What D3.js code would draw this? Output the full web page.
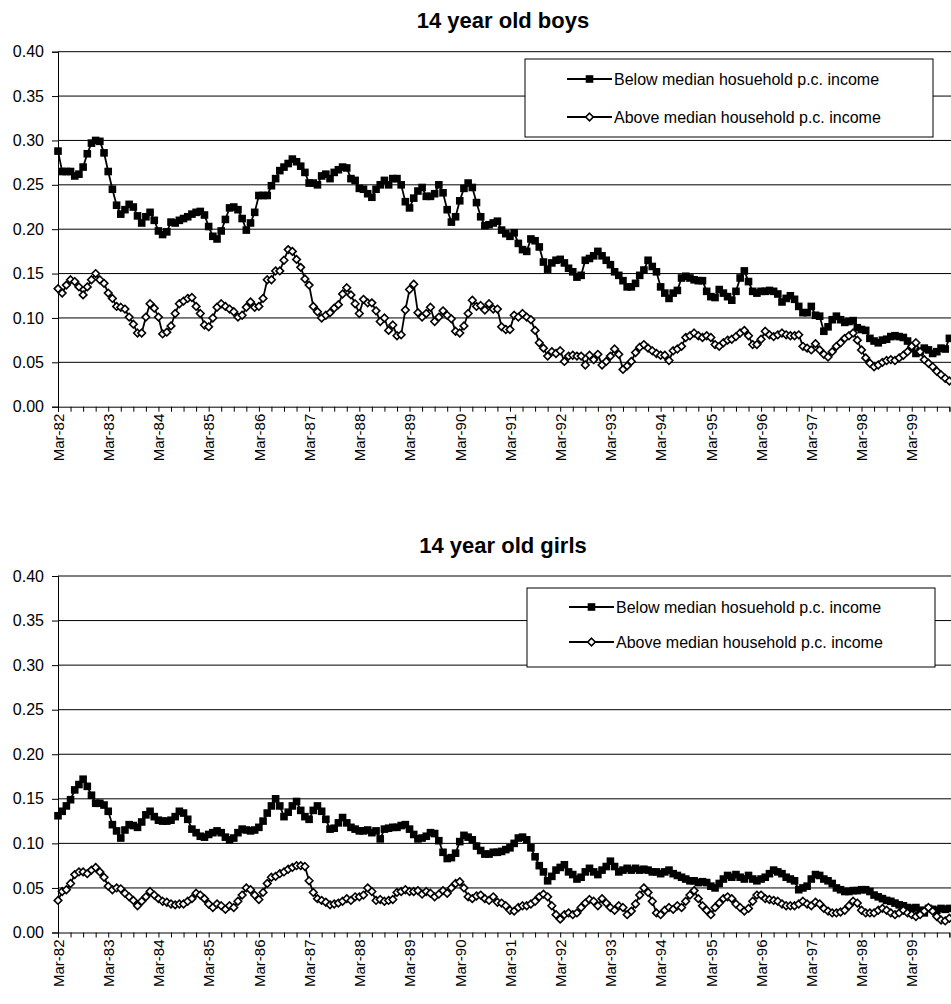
<!DOCTYPE html>
<html>
<head>
<meta charset="utf-8">
<script src="https://cdn.jsdelivr.net/npm/d3@7"></script>
<style>
  body { margin: 0; background: #fff; }
  svg { display: block; font-family: "Liberation Sans", Arial, Helvetica, sans-serif; }
</style>
</head>
<body>
<svg id="chart" width="951" height="1004"></svg>
<script>
// Monthly categories, Mar-82 through Dec-99
const months = d3.timeMonth.range(new Date(1982, 2, 1), new Date(2000, 0, 1)).map(d3.timeFormat("%b-%y"));
const yTicks = [0, 0.05, 0.10, 0.15, 0.20, 0.25, 0.30, 0.35, 0.40];
const seriesNames = ["Below median hosuehold p.c. income", "Above median household p.c. income"];
const titles = ["14 year old boys", "14 year old girls"];

const boysBelow = [
  0.288,0.265,0.265,0.265,0.260,0.262,0.270,0.285,0.297,0.300,0.299,0.286,
  0.265,0.245,0.227,0.217,0.222,0.228,0.225,0.215,0.207,0.214,0.219,0.210,
  0.198,0.194,0.197,0.208,0.207,0.210,0.212,0.214,0.217,0.219,0.220,0.216,
  0.203,0.192,0.189,0.198,0.211,0.224,0.225,0.222,0.212,0.199,0.207,0.219,
  0.238,0.238,0.238,0.249,0.257,0.266,0.270,0.274,0.279,0.276,0.271,0.264,
  0.252,0.252,0.250,0.260,0.262,0.257,0.264,0.267,0.270,0.269,0.257,0.255,
  0.246,0.245,0.240,0.236,0.245,0.250,0.255,0.250,0.257,0.257,0.250,0.231,
  0.224,0.235,0.243,0.247,0.237,0.237,0.240,0.250,0.241,0.222,0.208,0.214,
  0.232,0.246,0.252,0.247,0.230,0.214,0.204,0.205,0.207,0.209,0.199,0.195,
  0.192,0.196,0.184,0.177,0.175,0.189,0.187,0.180,0.163,0.155,0.162,0.165,
  0.166,0.162,0.156,0.152,0.146,0.148,0.165,0.167,0.170,0.175,0.170,0.165,
  0.160,0.152,0.148,0.142,0.135,0.135,0.139,0.148,0.154,0.165,0.158,0.152,
  0.135,0.128,0.122,0.128,0.131,0.145,0.147,0.145,0.143,0.142,0.142,0.130,
  0.124,0.123,0.132,0.128,0.124,0.120,0.130,0.145,0.153,0.141,0.130,0.128,
  0.130,0.130,0.131,0.130,0.127,0.118,0.122,0.125,0.121,0.113,0.106,0.106,
  0.113,0.103,0.102,0.085,0.090,0.098,0.102,0.098,0.095,0.096,0.097,0.089,
  0.087,0.086,0.077,0.074,0.072,0.075,0.076,0.079,0.080,0.079,0.078,0.074,
  0.066,0.060,0.062,0.066,0.064,0.060,0.062,0.066,0.065,0.077
];
const boysAbove = [
  0.133,0.128,0.137,0.143,0.141,0.135,0.126,0.135,0.143,0.150,0.143,0.139,
  0.128,0.122,0.113,0.112,0.110,0.101,0.093,0.083,0.083,0.101,0.116,0.111,
  0.101,0.082,0.084,0.091,0.105,0.116,0.119,0.122,0.123,0.113,0.105,0.092,
  0.090,0.100,0.112,0.116,0.113,0.110,0.107,0.101,0.103,0.112,0.118,0.112,
  0.113,0.122,0.143,0.143,0.153,0.153,0.165,0.177,0.175,0.166,0.157,0.144,
  0.137,0.113,0.107,0.100,0.103,0.106,0.111,0.115,0.127,0.134,0.126,0.116,
  0.105,0.121,0.117,0.117,0.108,0.096,0.100,0.086,0.092,0.080,0.081,0.109,
  0.132,0.138,0.106,0.101,0.105,0.112,0.096,0.101,0.108,0.103,0.099,0.085,
  0.083,0.091,0.105,0.120,0.113,0.114,0.109,0.116,0.110,0.110,0.090,0.087,
  0.087,0.103,0.101,0.105,0.101,0.098,0.086,0.072,0.066,0.057,0.062,0.060,
  0.063,0.051,0.057,0.058,0.057,0.057,0.047,0.058,0.053,0.059,0.047,0.051,
  0.057,0.065,0.059,0.042,0.046,0.051,0.061,0.067,0.070,0.066,0.063,0.060,
  0.058,0.058,0.052,0.063,0.065,0.068,0.078,0.080,0.083,0.080,0.078,0.080,
  0.078,0.070,0.068,0.072,0.075,0.076,0.079,0.083,0.086,0.080,0.070,0.070,
  0.076,0.085,0.081,0.079,0.081,0.083,0.081,0.080,0.080,0.081,0.068,0.066,
  0.064,0.071,0.064,0.059,0.056,0.062,0.068,0.072,0.077,0.080,0.083,0.075,
  0.064,0.055,0.049,0.045,0.047,0.050,0.052,0.053,0.052,0.055,0.058,0.062,
  0.068,0.072,0.062,0.053,0.049,0.045,0.040,0.036,0.032,0.029
];
const girlsBelow = [
  0.131,0.136,0.142,0.149,0.160,0.166,0.172,0.164,0.154,0.145,0.145,0.143,
  0.136,0.121,0.114,0.106,0.115,0.121,0.120,0.118,0.124,0.132,0.136,0.130,
  0.126,0.125,0.125,0.126,0.130,0.136,0.134,0.127,0.116,0.112,0.108,0.107,
  0.110,0.112,0.114,0.112,0.107,0.104,0.106,0.112,0.116,0.115,0.114,0.115,
  0.118,0.125,0.134,0.142,0.150,0.142,0.130,0.135,0.142,0.147,0.137,0.130,
  0.127,0.137,0.142,0.136,0.127,0.116,0.117,0.123,0.129,0.123,0.118,0.116,
  0.114,0.114,0.115,0.112,0.114,0.105,0.116,0.117,0.118,0.118,0.120,0.121,
  0.116,0.110,0.105,0.106,0.108,0.112,0.111,0.103,0.090,0.083,0.084,0.089,
  0.102,0.109,0.107,0.104,0.097,0.092,0.088,0.088,0.090,0.090,0.091,0.093,
  0.095,0.100,0.106,0.107,0.104,0.095,0.085,0.075,0.068,0.058,0.063,0.070,
  0.073,0.076,0.068,0.065,0.060,0.062,0.068,0.072,0.068,0.065,0.070,0.074,
  0.080,0.074,0.068,0.070,0.072,0.070,0.072,0.070,0.071,0.070,0.068,0.068,
  0.066,0.068,0.070,0.066,0.064,0.062,0.060,0.058,0.058,0.056,0.057,0.056,
  0.052,0.050,0.055,0.060,0.064,0.062,0.065,0.062,0.060,0.064,0.060,0.058,
  0.060,0.062,0.066,0.070,0.068,0.066,0.062,0.060,0.058,0.048,0.050,0.052,
  0.060,0.065,0.064,0.060,0.058,0.055,0.050,0.048,0.046,0.046,0.047,0.047,
  0.048,0.048,0.046,0.042,0.040,0.038,0.036,0.035,0.033,0.031,0.030,0.028,
  0.027,0.028,0.025,0.022,0.027,0.026,0.025,0.027,0.026,0.027
];
const girlsAbove = [
  0.036,0.046,0.048,0.055,0.065,0.068,0.068,0.066,0.070,0.073,0.068,0.062,
  0.052,0.048,0.050,0.049,0.044,0.040,0.036,0.030,0.035,0.040,0.046,0.042,
  0.038,0.035,0.034,0.032,0.031,0.032,0.032,0.035,0.038,0.044,0.042,0.038,
  0.032,0.028,0.032,0.030,0.026,0.030,0.028,0.035,0.042,0.050,0.048,0.042,
  0.037,0.045,0.055,0.062,0.063,0.066,0.068,0.071,0.073,0.075,0.075,0.074,
  0.058,0.045,0.038,0.036,0.034,0.031,0.032,0.033,0.035,0.038,0.036,0.040,
  0.040,0.042,0.050,0.046,0.036,0.037,0.035,0.036,0.037,0.045,0.046,0.048,
  0.046,0.046,0.047,0.043,0.046,0.044,0.040,0.043,0.047,0.044,0.050,0.055,
  0.057,0.050,0.040,0.038,0.041,0.042,0.038,0.036,0.040,0.034,0.033,0.030,
  0.025,0.024,0.028,0.030,0.030,0.032,0.035,0.040,0.043,0.040,0.030,0.020,
  0.015,0.020,0.022,0.020,0.022,0.028,0.033,0.037,0.035,0.030,0.038,0.033,
  0.028,0.025,0.030,0.028,0.020,0.024,0.032,0.042,0.050,0.045,0.035,0.022,
  0.020,0.025,0.028,0.026,0.030,0.028,0.035,0.042,0.047,0.038,0.030,0.025,
  0.020,0.028,0.033,0.038,0.040,0.038,0.032,0.028,0.024,0.027,0.035,0.042,
  0.042,0.038,0.037,0.036,0.035,0.032,0.030,0.030,0.030,0.032,0.035,0.032,
  0.030,0.034,0.032,0.027,0.024,0.022,0.022,0.023,0.025,0.030,0.035,0.033,
  0.025,0.022,0.022,0.022,0.025,0.027,0.025,0.022,0.020,0.022,0.025,0.022,
  0.020,0.018,0.020,0.024,0.028,0.024,0.018,0.014,0.013,0.016
];

// Panel layout
const panels = [
  { title: titles[0], below: boysBelow, above: boysAbove,
    top: 51.7, bottom: 406.7, titleY: 28, legend: { x: 525, y: 59, w: 408, h: 78, r1: 20, r2: 58 } },
  { title: titles[1], below: girlsBelow, above: girlsAbove,
    top: 576, bottom: 932.5, titleY: 553, legend: { x: 527, y: 588, w: 408, h: 79, r1: 19, r2: 54 } }
];
const left = 58, right = 949.4, gridRight = 951;

const svg = d3.select("#chart");
const x = d3.scalePoint().domain(months).range([left, right]).padding(0);

function squareMarker(sel, cx, cy) {
  const s = 7.6;
  sel.append("rect").attr("x", cx - s / 2).attr("y", cy - s / 2)
    .attr("width", s).attr("height", s).attr("fill", "#000");
}
function diamondMarker(sel, cx, cy) {
  const r = 3.8;
  sel.append("path")
    .attr("d", `M${cx},${cy - r}L${cx + r},${cy}L${cx},${cy + r}L${cx - r},${cy}Z`)
    .attr("fill", "#fff").attr("stroke", "#000").attr("stroke-width", 1.6);
}

panels.forEach(p => {
  const g = svg.append("g");
  const y = d3.scaleLinear().domain([0, 0.4]).range([p.bottom, p.top]);

  // title
  g.append("text").attr("x", 503).attr("y", p.titleY)
    .attr("text-anchor", "middle").attr("font-weight", "bold").attr("font-size", 22)
    .text(p.title);

  // horizontal gridlines
  g.append("g").selectAll("line").data(yTicks.filter(d => d > 0)).join("line")
    .attr("x1", left).attr("x2", gridRight)
    .attr("y1", d => y(d)).attr("y2", d => y(d))
    .attr("stroke", "#000").attr("stroke-width", 1);

  // y axis
  const ya = g.append("g").attr("transform", `translate(${left},0)`)
    .call(d3.axisLeft(y).tickValues(yTicks).tickSize(6).tickPadding(8).tickFormat(d3.format(".2f")));
  ya.select(".domain").attr("stroke", "#000");
  ya.selectAll("line").attr("stroke", "#000");
  ya.selectAll("text").attr("font-size", 16).attr("font-family", null).attr("fill", "#000");

  // x axis: quarterly ticks, labels every March
  const xa = g.append("g").attr("transform", `translate(0,${p.bottom})`)
    .call(d3.axisBottom(x)
      .tickValues(months.filter((d, i) => i % 3 === 0))
      .tickSize(5)
      .tickFormat(d => d.startsWith("Mar") ? d : ""));
  xa.select(".domain").attr("stroke", "#000");
  xa.selectAll("line").attr("stroke", "#000");
  xa.selectAll("text")
    .attr("font-size", 15).attr("font-family", null).attr("fill", "#000")
    .attr("transform", "rotate(-90)")
    .attr("text-anchor", "end")
    .attr("x", -7).attr("y", 0).attr("dy", "0.35em");

  // series
  const line = d3.line().x((d, i) => x(months[i])).y(d => y(d));
  [[p.below, squareMarker], [p.above, diamondMarker]].forEach(([vals, marker]) => {
    g.append("path").datum(vals).attr("d", line)
      .attr("fill", "none").attr("stroke", "#000").attr("stroke-width", 1.8);
    const mg = g.append("g");
    vals.forEach((v, i) => marker(mg, x(months[i]), y(v)));
  });

  // legend
  const L = p.legend;
  const lg = g.append("g");
  lg.append("rect").attr("x", L.x).attr("y", L.y).attr("width", L.w).attr("height", L.h)
    .attr("fill", "#fff").attr("stroke", "#000").attr("stroke-width", 1);
  [[L.r1, squareMarker], [L.r2, diamondMarker]].forEach(([ry, marker], k) => {
    const cy = L.y + ry;
    lg.append("line").attr("x1", L.x + 42).attr("x2", L.x + 87).attr("y1", cy).attr("y2", cy)
      .attr("stroke", "#000").attr("stroke-width", 1.8);
    marker(lg, L.x + 64.5, cy);
    lg.append("text").attr("x", L.x + 89).attr("y", cy).attr("dy", "0.35em")
      .attr("font-size", 16).text(seriesNames[k]);
  });
});
</script>
</body>
</html>
